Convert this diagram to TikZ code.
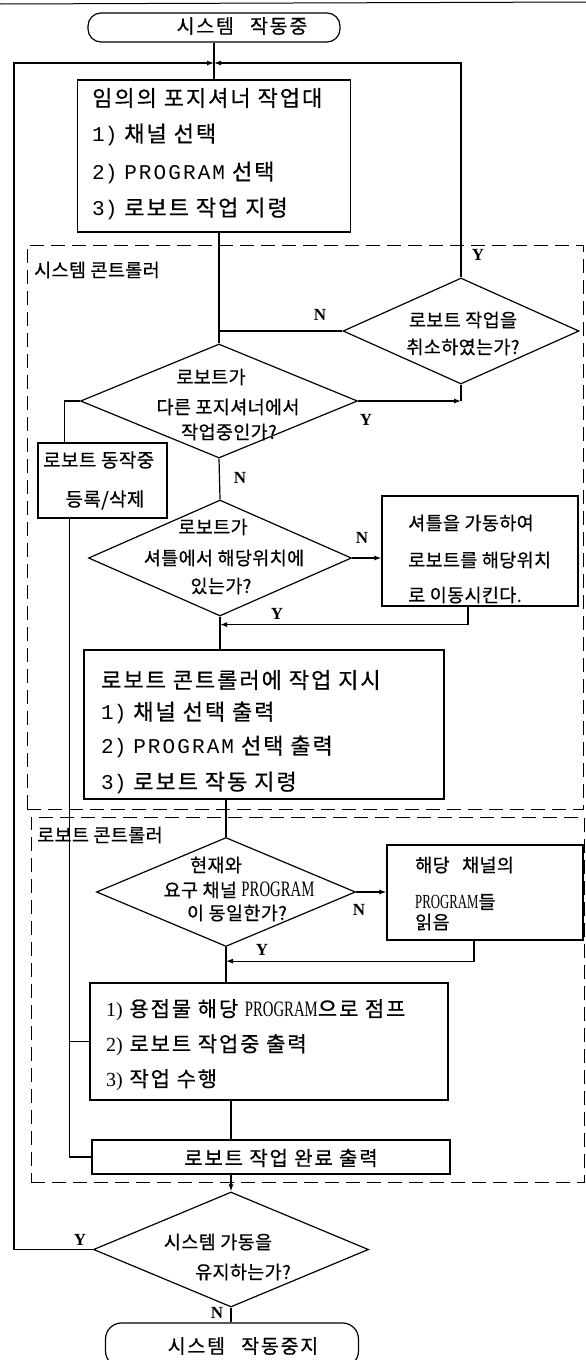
\documentclass[tikz,border=0pt]{standalone}
\usepackage{fontspec}
\usetikzlibrary{shapes.geometric,arrows.meta,calc}
\newfontfamily\KrWide[LetterSpace=9,FakeBold=0.6]{Noto Sans CJK KR}
\newfontfamily\KrNorm[LetterSpace=2,FakeBold=0.6]{Noto Sans CJK KR}
\newfontfamily\MonoWide[LetterSpace=10]{Liberation Mono}
\newfontfamily\MonoNorm{Liberation Mono}
\newfontfamily\SerNorm{Liberation Serif}
\newfontfamily\SerCond[FakeStretch=0.67]{Liberation Serif}
\newfontfamily\SerCondS[FakeStretch=0.64]{Liberation Serif}
\newcommand\txW{\KrWide\fontsize{22}{26}\selectfont}
\newcommand\txN{\KrNorm\fontsize{18.5}{21}\selectfont}
\newcommand\monoN[1]{{\MonoNorm\fontsize{21}{25}\selectfont #1}}
\newcommand\monoW[1]{{\MonoWide\fontsize{21}{25}\selectfont #1}}
\newcommand\serP[1]{{\SerCond\fontsize{22}{24}\selectfont #1}}
\newcommand\serPs[1]{{\SerCondS\fontsize{20}{22}\selectfont #1}}
\newcommand\serN[1]{{\SerNorm\fontsize{20}{22}\selectfont #1}}
\begin{document}
\begin{tikzpicture}[x=1pt,y=-1pt,
  flow/.style={line width=1.2pt},
  arr/.style={line width=1.2pt,-{Latex[length=7pt,width=5pt]}},
  box/.style={draw,line width=1.2pt,inner sep=0pt},
  dec/.style={diamond,draw,line width=1.2pt,inner sep=0pt},
  term/.style={draw,line width=1.2pt,rounded corners=13pt,inner sep=0pt},
  region/.style={draw,line width=1pt,dash pattern=on 14pt off 7pt,inner sep=0pt},
  tw/.style={inner sep=0pt,font=\txW},
  tb6/.style={inner sep=0pt,font=\KrWide\fontsize{21}{25}\selectfont},
  tb7/.style={inner sep=0pt,font=\KrWide\fontsize{20}{24}\selectfont},
  tterm/.style={inner sep=0pt,font=\KrWide\fontsize{19.5}{22}\selectfont},
  tn/.style={inner sep=0pt,font=\txN},
  tbig/.style={inner sep=0pt,font=\KrNorm\fontsize{19}{22}\selectfont},
  tlab/.style={inner sep=0pt,font=\KrNorm\fontsize{18.5}{21}\selectfont},
  yn/.style={inner sep=0pt,font=\SerNorm\bfseries\fontsize{17}{17}\selectfont},
]
\fill[white] (0,0) rectangle (586,1360);
\useasboundingbox (0,0) rectangle (586,1360);
\draw[line width=1pt] (0,4) -- (586,2);

% dashed regions
\node[region,minimum width=556pt,minimum height=564pt] (sysR) at (305,527) {};
\node[region,minimum width=553pt,minimum height=365pt] (robR) at (307.5,999.5) {};
\node[tlab,anchor=west] (sysL) at (34,270) {시스템 콘트롤러};
\node[tlab,anchor=west] (robL) at (37,835) {로보트 콘트롤러};

% start
\node[term,minimum width=252pt,minimum height=29pt] (start) at (214,27.5) {};
\node[tterm] (startT) at (242,26) {시스템\hspace{10pt} 작동중};

% box 1
\node[box,minimum width=273pt,minimum height=152pt] (b1) at (214,156) {};
\node[tw,anchor=west] (b1a) at (92,98) {임의의 포지셔너 작업대};
\node[tw,anchor=west] (b1b) at (92,135) {\monoN{1)} 채널 선택};
\node[tw,anchor=west] (b1c) at (92,173) {\monoN{2)} \monoW{PROGRAM} 선택};
\node[tw,anchor=west] (b1d) at (92,209) {\monoN{3)} 로보트 작업 지령};

% cancel diamond
\node[dec,minimum width=236pt,minimum height=106pt,aspect=2.226] (dc) at (461,331) {};
\node[tn] (dca) at (463,320) {로보트 작업을};
\node[tn] (dcb) at (463,347) {취소하였는가?};

% diamond 2
\node[dec,minimum width=277pt,minimum height=114pt,aspect=2.43] (d2) at (219,401) {};
\node[tn] (d2a) at (211,377) {로보트가};
\node[tn] (d2b) at (228,407) {다른 포지셔너에서};
\node[tn] (d2c) at (229,432) {작업중인가?};

% busy box
\node[box,minimum width=129pt,minimum height=75pt] (bz) at (102.5,480.5) {};
\node[tbig,anchor=west] (bza) at (43,460) {로보트 동작중};
\node[tbig] (bzb) at (105,500) {등록/삭제};

% diamond 3
\node[dec,minimum width=263pt,minimum height=116pt,aspect=2.27] (d3) at (220,558) {};
\node[tn] (d3a) at (213,527) {로보트가};
\node[tn] (d3b) at (224,558) {셔틀에서 해당위치에};
\node[tn] (d3c) at (221,586) {있는가?};

% shuttle box
\node[box,minimum width=196pt,minimum height=110pt] (sh) at (480,551) {};
\node[tn,anchor=west] (sha) at (408,523) {셔틀을 가동하여};
\node[tn,anchor=west] (shb) at (408,560) {로보트를 해당위치};
\node[tn,anchor=west] (shc) at (408,595) {로 이동시킨다.};

% box 4
\node[box,minimum width=360pt,minimum height=149pt] (b4) at (264,724.5) {};
\node[tw,anchor=west] (b4a) at (101,680) {로보트 콘트롤러에 작업 지시};
\node[tw,anchor=west] (b4b) at (101,713) {\monoN{1)} 채널 선택 출력};
\node[tw,anchor=west] (b4c) at (101,747) {\monoN{2)} \monoW{PROGRAM} 선택 출력};
\node[tw,anchor=west] (b4d) at (101,783) {\monoN{3)} 로보트 작동 지령};

% diamond 4
\node[dec,minimum width=259pt,minimum height=109pt,aspect=2.38] (d4) at (226,892) {};
\node[tn] (d4a) at (216,865) {현재와};
\node[tn] (d4b) at (239,890) {요구 채널 \serP{PROGRAM}};
\node[tn] (d4c) at (237,913) {이 동일한가?};

% box 5
\node[box,minimum width=196pt,minimum height=95pt] (b5) at (485,892.5) {};
\node[tn,anchor=west] (b5a) at (415,865) {해당\hspace{8pt} 채널의};
\node[tn,anchor=west] (b5b) at (415,902) {\serPs{PROGRAM}들};
\node[tn,anchor=west] (b5c) at (415,922) {읽음};

% box 6
\node[box,minimum width=358pt,minimum height=117pt] (b6) at (269,1041.5) {};
\node[tb6,anchor=west] (b6a) at (106,1010) {\serN{1)} 용접물 해당 \serP{PROGRAM}으로 점프};
\node[tb6,anchor=west] (b6b) at (106,1045) {\serN{2)} 로보트 작업중 출력};
\node[tb6,anchor=west] (b6c) at (106,1080) {\serN{3)} 작업 수행};

% box 7
\node[box,minimum width=358pt,minimum height=34pt] (b7) at (271,1157) {};
\node[tb7] (b7a) at (281,1158) {로보트 작업 완료 출력};

% diamond 5
\node[dec,minimum width=275pt,minimum height=115pt,aspect=2.39] (d5) at (231,1249.5) {};
\node[tn] (d5a) at (218,1242) {시스템 가동을};
\node[tn] (d5b) at (243,1272) {유지하는가?};

% stop
\node[term,minimum width=253pt,minimum height=44pt,rounded corners=16pt] (stop) at (232,1345) {};
\node[tterm] (stopT) at (243,1346) {시스템\hspace{10pt} 작동중지};

% Y/N labels
\node[yn] (y1) at (478,255) {Y};
\node[yn] (n1) at (320,315) {N};
\node[yn] (y2) at (366,420) {Y};
\node[yn] (n2) at (240,478) {N};
\node[yn] (n3) at (362,538) {N};
\node[yn] (y3) at (277,614) {Y};
\node[yn] (n4) at (359,910) {N};
\node[yn] (y4) at (262,950) {Y};
\node[yn] (y5) at (80,1240) {Y};
\node[yn] (n5) at (217,1313) {N};

% coordinates
\coordinate (j1) at (214,63);
\coordinate (lx) at (14,63);
\coordinate (j2) at (d2.north |- dc.west);
\coordinate (bzin) at ($(bz.north west)+(27,0)$);
\coordinate (bzout) at ($(bz.south west)+(32,0)$);
\coordinate (shout) at ($(sh.south)+(-12,0)$);
\coordinate (j3) at ($(d3.south)+(0,8)$);
\coordinate (b5out) at ($(b5.south)+(-11,0)$);
\coordinate (j4) at ($(d4.south)+(0,14)$);

% connectors
\draw[flow] (start.south) -- (b1.north);
\draw[arr] (d5.west) -| (lx) -- (j1);
\draw[arr] (dc.north) |- (j1);
\draw[flow] (b1.south -| d2.north) -- (d2.north);
\draw[flow] (dc.west) -- (j2);
\draw[arr] (d2.east) -- (d2.east -| dc.south);
\draw[flow] (d2.east -| dc.south) -- (dc.south);
\draw[flow] (d2.west) -| (bzin);
\draw[flow] (d2.south) -- (d3.north);
\draw[arr] (d3.east) -- (d3.east -| sh.west);
\draw[arr] (shout) |- (j3);
\draw[flow] (d3.south) -- (d3.south |- b4.north);
\draw[flow] (b4.south -| d4.north) -- (d4.north);
\draw[arr] (d4.east) -- (d4.east -| b5.west);
\draw[arr] (b5out) |- (j4);
\draw[flow] (d4.south) -- (d4.south |- b6.north);
\draw[flow] (b6.south -| d5.north) -- (b7.north -| d5.north);
\draw[arr] (b7.south -| d5.north) -- (d5.north);
\draw[flow] (d5.south) -- (d5.south |- stop.north);
\draw[flow] (bzout) |- (b7.west);
\draw[flow] (bzout |- b6.west) -- (b6.west);
\end{tikzpicture}
\end{document}
